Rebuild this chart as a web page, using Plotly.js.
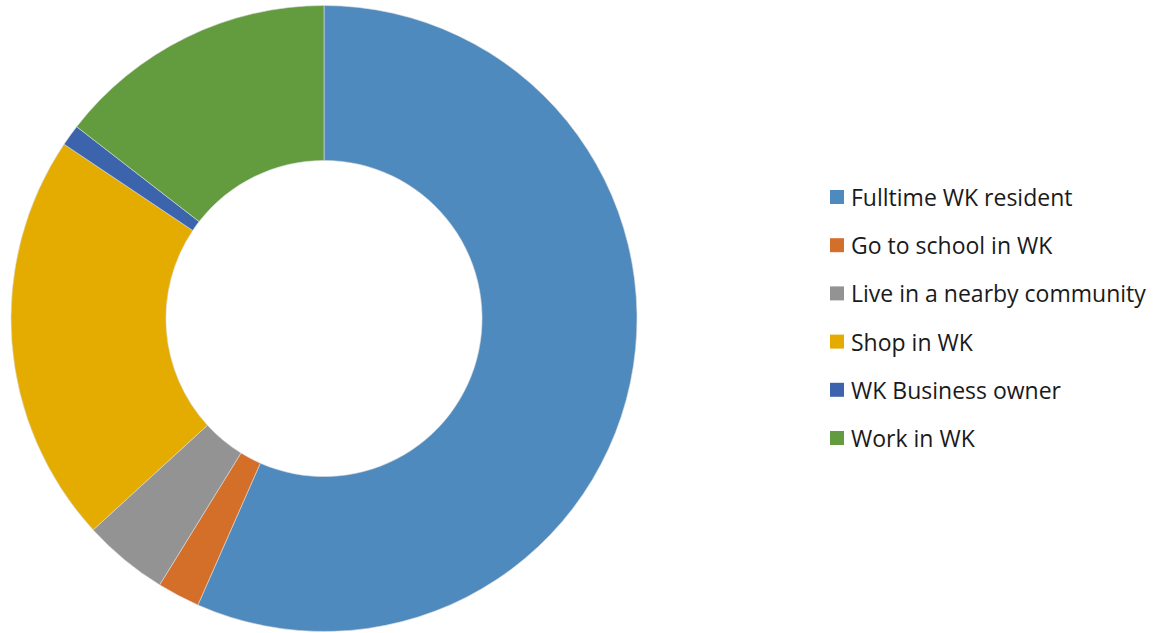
<!DOCTYPE html>
<html><head><meta charset="utf-8">
<script src="https://cdn.plot.ly/plotly-3.0.1.min.js"></script>
<style>html,body{margin:0;padding:0;background:#fff}#chart{width:1164px;height:633px}</style>
</head><body><div id="chart"></div>
<script>
const labels = ["Fulltime WK resident","Go to school in WK","Live in a nearby community","Shop in WK","WK Business owner","Work in WK"];
const values = [56.6, 2.2, 4.4, 21.2, 1.1, 14.5];
const colors = ["#4F8ABE","#D46F2A","#939393","#E4AB00","#3B64AD","#629C3F"];

const W = 1164, H = 633;
const cx = 324, cy = 318.5, r = 313;
const trace = {
  type: "pie", labels: labels, values: values, hole: 0.505,
  sort: false, direction: "clockwise", rotation: 0,
  marker: {colors: colors, line: {color: "#dcdcdc", width: 0.6}},
  textinfo: "none", hoverinfo: "label+value", showlegend: false,
  domain: {x: [(cx - r) / W, (cx + r) / W], y: [1 - (cy + r) / H, 1 - (cy - r) / H]}
};

const annotations = [], shapes = [];
const lx = 830, ly0 = 197, dy = 48.2, sq = 14;
labels.forEach((lab, i) => {
  const y = ly0 + i * dy;
  shapes.push({type: "rect", xref: "paper", yref: "paper",
    x0: lx / W, x1: (lx + sq) / W, y0: 1 - (y + sq / 2) / H, y1: 1 - (y - sq / 2) / H,
    fillcolor: colors[i], line: {width: 0}});
  annotations.push({text: lab, xref: "paper", yref: "paper", x: 849 / W, y: 1 - y / H,
    xanchor: "left", yanchor: "middle", showarrow: false,
    font: {family: "'Open Sans', sans-serif", size: 23, color: "#1a1a1a"}});
});

Plotly.newPlot("chart", [trace], {
  width: W, height: H, margin: {l: 0, r: 0, t: 0, b: 0},
  paper_bgcolor: "#fff", plot_bgcolor: "#fff",
  showlegend: false, annotations: annotations, shapes: shapes
}, {displayModeBar: false, staticPlot: true});
</script></body></html>
